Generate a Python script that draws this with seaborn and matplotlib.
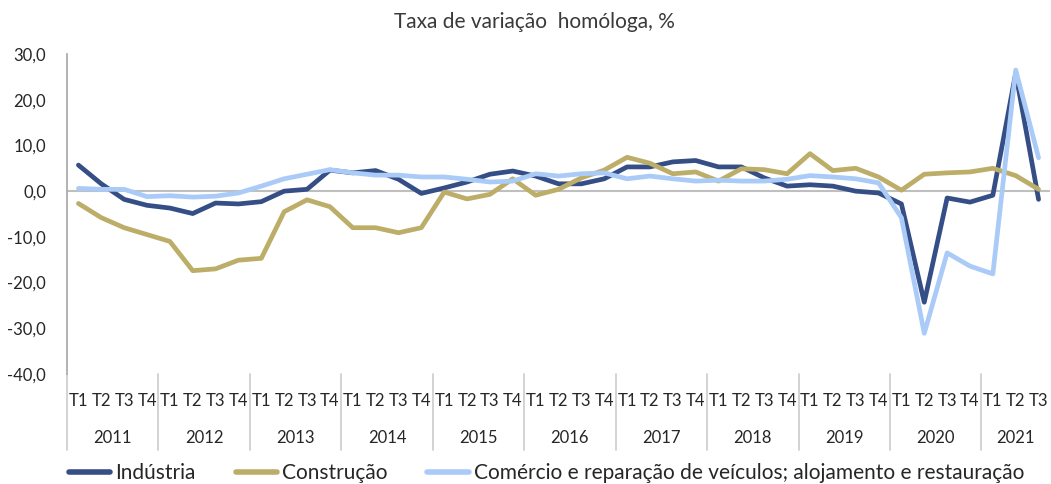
import numpy as np
import pandas as pd
import seaborn as sns
import matplotlib.pyplot as plt
import matplotlib.transforms as mtransforms

# Quarterly year-on-year change, 2011 T1 .. 2021 T3
years = [str(y) for y in range(2011, 2022)]
quarters = ["T1", "T2", "T3", "T4"]

industria = [5.7, 1.6, -1.8, -3.1, -3.7, -4.9, -2.6, -2.8, -2.3, 0.0, 0.4,
             4.6, 4.0, 4.5, 2.6, -0.5, 0.7, 2.0, 3.7, 4.4, 3.3, 1.6,
             1.6, 2.7, 5.3, 5.3, 6.4, 6.7, 5.3, 5.3, 2.9, 1.1,
             1.4, 1.1, 0.0, -0.4, -2.8, -24.3, -1.5, -2.4, -0.9, 25.8, -1.8]
construcao = [-2.7, -5.8, -8.0, -9.5, -11.0, -17.4, -17.0, -15.1, -14.7, -4.5, -1.9,
              -3.4, -8.0, -8.0, -9.1, -8.0, -0.2, -1.7, -0.7, 2.7, -0.9, 0.4,
              2.9, 4.6, 7.4, 6.1, 3.8, 4.2, 2.2, 4.9, 4.7, 3.8,
              8.2, 4.5, 5.0, 3.1, 0.2, 3.7, 4.0, 4.2, 5.0, 3.4, 0.4]
comercio = [0.6, 0.4, 0.4, -1.2, -1.0, -1.3, -1.1, -0.4, 1.1, 2.7, 3.7,
            4.7, 4.0, 3.5, 3.5, 3.1, 3.1, 2.6, 2.0, 2.2, 3.8, 3.3,
            3.8, 4.0, 2.7, 3.3, 2.7, 2.2, 2.4, 2.2, 2.2, 2.6,
            3.4, 3.1, 2.7, 1.8, -5.8, -31.1, -13.5, -16.4, -18.1, 26.5, 7.3]

series_names = ["Indústria", "Construção",
                "Comércio e reparação de veículos; alojamento e restauração"]
colors = ["#354E86", "#BCAE69", "#AACBF7"]

n = len(industria)
qlabels = [quarters[i % 4] for i in range(n)]

df = pd.DataFrame({
    "idx": np.tile(np.arange(n), 3),
    "valor": industria + construcao + comercio,
    "serie": np.repeat(series_names, n),
})

sns.set_style("white")
plt.rcParams["font.family"] = ["Lato", "DejaVu Sans"]
plt.rcParams["font.size"] = 12

fig = plt.figure(figsize=(10.51, 4.84), dpi=100)
ax = fig.add_axes([67 / 1051, 110 / 484, 983 / 1051, 320 / 484])

sns.lineplot(data=df, x="idx", y="valor", hue="serie", palette=colors,
             linewidth=3.4, ax=ax, zorder=3)

ax.axhline(0, color="#BFBFBF", lw=1.5, zorder=1)
ax.set_xlim(-0.5, n - 0.5)
ax.set_ylim(-40, 30)
ax.set_yticks(np.arange(-40, 31, 10))
ax.set_yticklabels([f"{v:.1f}".replace(".", ",") for v in np.arange(-40, 31, 10)])
ax.set_xticks(range(n))
ax.set_xticklabels(qlabels)
ax.tick_params(axis="x", length=0, pad=14, labelsize=12)
ax.tick_params(axis="y", length=5, color="#A6A6A6", width=1.2, pad=10, labelsize=12)
for s in ["top", "right", "bottom"]:
    ax.spines[s].set_visible(False)
ax.spines["left"].set_color("#A6A6A6")
ax.spines["left"].set_linewidth(1.2)
ax.set_xlabel("")
ax.set_ylabel("")

# year labels and separators below the axis
trans = mtransforms.blended_transform_factory(ax.transData, ax.transAxes)
for k, yr in enumerate(years):
    start = 4 * k
    end = min(start + 4, n)
    ax.text((start + end - 1) / 2, -0.2, yr, transform=trans,
            ha="center", va="center", fontsize=12)
    ax.plot([start - 0.5, start - 0.5], [0, -0.237], transform=trans,
            color="#D0D0D0", lw=1.3, clip_on=False)

fig.text(534 / 1051, 1 - 22 / 484, "Taxa de variação  homóloga, %",
         ha="center", va="center", fontsize=15, color="#3A3A3A")

sns.move_legend(ax, "center", bbox_to_anchor=(0.488, -0.31), ncol=3,
                title=None, frameon=False, handlelength=2.0,
                handletextpad=0.25, columnspacing=1.9, fontsize=15)
for line in ax.get_legend().get_lines():
    line.set_linewidth(4)

fig.savefig("out.png", dpi=100)
